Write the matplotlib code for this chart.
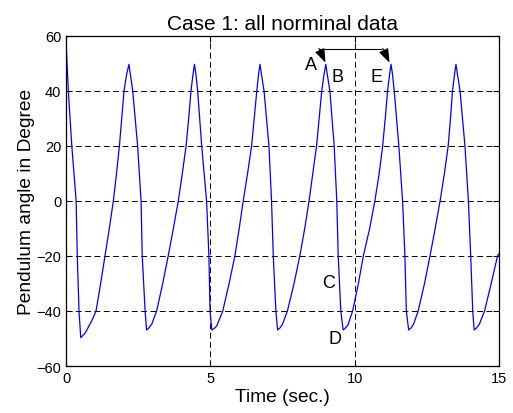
import matplotlib.pyplot as plt

plt.rcParams["font.family"] = ["Liberation Sans", "DejaVu Sans"]

# pendulum angle (time in s, angle in degrees)
t = [0, 0.08, 0.2, 0.35, 0.39, 0.45, 0.51, 0.66, 0.89, 1.04, 1.20, 1.35, 1.50, 1.64, 1.75, 1.85, 1.93, 2.01, 2.10, 2.18,
     2.23, 2.31, 2.48, 2.6, 2.64, 2.74, 2.79,
     2.87, 2.97, 3.14, 3.35, 3.54, 3.72, 3.89, 4.03, 4.16, 4.25, 4.33, 4.40, 4.45,
     4.50, 4.56, 4.70, 4.87, 4.95, 4.99, 5.05,
     5.13, 5.22, 5.43, 5.65, 5.85, 6.0, 6.14, 6.29, 6.43, 6.52, 6.61, 6.67, 6.72,
     6.77, 6.86, 7.03, 7.12, 7.18, 7.27, 7.33,
     7.41, 7.5, 7.67, 7.9, 8.1, 8.27, 8.42, 8.55, 8.68, 8.77, 8.86, 8.94, 9.0,
     9.05, 9.14, 9.29, 9.38, 9.43, 9.52, 9.6,
     9.68, 9.77, 9.93, 10.13, 10.3, 10.52, 10.70, 10.85, 10.97, 11.06, 11.14, 11.21, 11.26,
     11.31, 11.37, 11.53, 11.66, 11.74, 11.79, 11.87,
     11.95, 12.04, 12.2, 12.42, 12.61, 12.79, 12.96, 13.11, 13.24, 13.32, 13.39, 13.46, 13.51,
     13.56, 13.65, 13.82, 13.94, 14.02, 14.09, 14.14,
     14.22, 14.32, 14.5, 14.73, 14.95, 15.0]
angle = [58, 40, 20, 0, -20, -40, -49.7, -48.1, -43.6, -40, -30, -20, -10, 0, 10, 20, 30, 40, 46, 49.6,
         46, 40, 20, 0, -20, -40, -46.9,
         -46.2, -44.8, -40, -30, -20, -10, 0, 10, 20, 30, 40, 46, 49.6,
         46, 40, 20, 0, -20, -40, -46.9,
         -46.4, -45.5, -40, -30, -20, -10, 0, 10, 20, 30, 40, 46, 49.6,
         46, 40, 20, 0, -20, -40, -46.9,
         -46.2, -44.8, -40, -30, -20, -10, 0, 10, 20, 30, 40, 46, 49.6,
         46, 40, 20, 0, -20, -40, -46.9,
         -46.2, -45.0, -40, -30, -20, -10, 0, 10, 20, 30, 40, 46, 49.6,
         46, 40, 20, 0, -20, -40, -46.9,
         -46.2, -44.8, -40, -30, -20, -10, 0, 10, 20, 30, 40, 46, 49.6,
         46, 40, 20, 0, -20, -40, -46.9,
         -46.2, -44.8, -40, -30, -20, -19.2]

xticks = [0, 5, 10, 15]
yticks = [-60, -40, -20, 0, 20, 40, 60]

fig = plt.figure(figsize=(5.13, 4.14), dpi=100)
ax = fig.add_axes([0.1287, 0.1135, 0.8440, 0.7979])

ax.plot(t, angle, color="#0000ff", linewidth=0.9)

ax.set_xlim(0, 15)
ax.set_ylim(-60, 60)
ax.set_xticks(xticks)
ax.set_yticks(yticks)
ax.grid(True, color="black", linestyle=(0, (6, 3.6)), linewidth=0.7)
ax.tick_params(direction="in", top=True, right=True, length=4, labelsize=10.5)
for s in ax.spines.values():
    s.set_linewidth(0.9)

ax.set_title("Case 1: all norminal data", fontsize=15, pad=5)
ax.set_xlabel("Time (sec.)", fontsize=13.8, labelpad=2)
ax.set_ylabel("Pendulum angle in Degree", fontsize=13.8, labelpad=1)

# period markers
arr = dict(arrowstyle="-|>,head_length=0.6,head_width=0.22", color="black", lw=0.8, mutation_scale=14)
ax.annotate("", xy=(9.03, 49.3), xytext=(8.72, 56.3), arrowprops=arr)
ax.annotate("", xy=(11.25, 49.3), xytext=(10.93, 56.3), arrowprops=arr)
ax.plot([8.8, 10.9], [55.2, 55.2], color="black", linewidth=0.8)

lbl = dict(fontsize=13, ha="center", va="center")
ax.text(8.49, 49.4, "A", **lbl)
ax.text(9.4, 45.2, "B", **lbl)
ax.text(10.76, 45.2, "E", **lbl)
ax.text(9.08, -29.7, "C", **lbl)
ax.text(9.32, -50.0, "D", **lbl)

fig.savefig("out.png", dpi=100)
